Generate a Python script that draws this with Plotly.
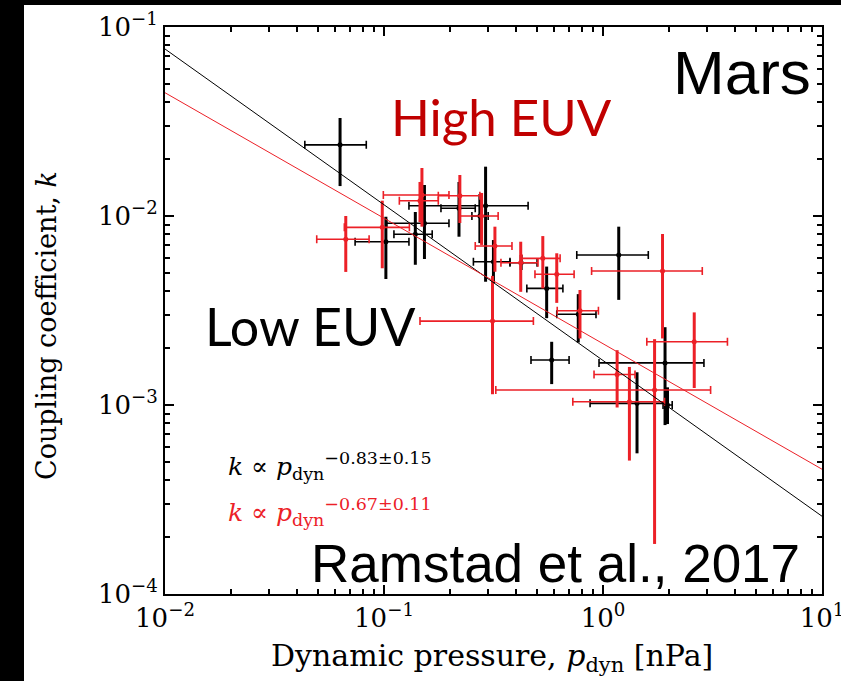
import plotly.graph_objects as go

# ---------------- data ----------------
# Low EUV (black)
low_x   = [0.0630, 0.102, 0.139, 0.153, 0.291, 0.220, 0.274, 0.316, 0.423, 0.553, 0.771, 1.18, 0.583, 1.92, 1.43, 1.97]
low_xlo = [0.0435, 0.0738, 0.111, 0.103, 0.130, 0.182, 0.252, 0.256, 0.376, 0.449, 0.615, 0.759, 0.469, 0.959, 0.873, 1.88]
low_xhi = [0.0830, 0.130, 0.166, 0.198, 0.455, 0.261, 0.299, 0.376, 0.500, 0.656, 0.929, 1.61, 0.700, 2.89, 1.95, 2.07]
low_y   = [0.0238, 0.00731, 0.0080, 0.00915, 0.01134, 0.01099, 0.0100, 0.00573, 0.00566, 0.00414, 0.00302, 0.00622, 0.00173, 0.00167, 0.00102, 0.00100]
low_ylo = [0.0144, 0.00464, 0.00552, 0.00592, 0.00449, 0.00777, 0.00719, 0.00442, 0.00518, 0.00288, 0.00214, 0.0036, 0.00129, 0.000783, 0.000555, 0.000793]
low_yhi = [0.0330, 0.00991, 0.0105, 0.01459, 0.01824, 0.01514, 0.01306, 0.00746, 0.00622, 0.0054, 0.00386, 0.00878, 0.00216, 0.00258, 0.00149, 0.00124]

# High EUV (red)
high_x   = [0.0669, 0.0982, 0.149, 0.146, 0.222, 0.279, 0.321, 0.313, 0.421, 0.531, 0.615, 0.785, 1.87, 2.61, 1.16, 1.72, 1.32]
high_xlo = [0.0493, 0.0659, 0.0993, 0.1175, 0.177, 0.222, 0.261, 0.146, 0.342, 0.426, 0.489, 0.618, 0.887, 1.585, 0.910, 0.324, 0.728]
high_xhi = [0.0855, 0.1306, 0.198, 0.177, 0.274, 0.332, 0.384, 0.481, 0.505, 0.637, 0.738, 0.953, 2.84, 3.70, 1.40, 3.10, 1.91]
high_y   = [0.00753, 0.00871, 0.01291, 0.01205, 0.0128, 0.0100, 0.00694, 0.00278, 0.00566, 0.00597, 0.00492, 0.00315, 0.00512, 0.00216, 0.00145, 0.00120, 0.00104]
high_ylo = [0.00506, 0.00529, 0.00878, 0.00929, 0.00918, 0.00703, 0.00507, 0.00114, 0.00397, 0.00414, 0.00347, 0.00225, 0.00225, 0.00123, 0.00097, 0.000184, 0.000508]
high_yhi = [0.0100, 0.01205, 0.01795, 0.01514, 0.01648, 0.01324, 0.00878, 0.00482, 0.00731, 0.00783, 0.00635, 0.00406, 0.00803, 0.00309, 0.00195, 0.00223, 0.00159]

# power-law fits k = amp * p^exp
low_fit_amp, low_fit_exp = 1.72e-3, -0.824
high_fit_amp, high_fit_exp = 2.11e-3, -0.664

x_range = [0.01, 10.0]
x_tickvals = [0.01, 0.1, 1, 10]
x_ticktext = ["10<sup>−2</sup>", "10<sup>−1</sup>", "10<sup>0</sup>", "10<sup>1</sup>"]
y_tickvals = [1e-4, 1e-3, 1e-2, 1e-1]
y_ticktext = ["10<sup>−4</sup>", "10<sup>−3</sup>", "10<sup>−2</sup>", "10<sup>−1</sup>"]

BLACK = "#000000"
RED = "#ec2027"
DARKRED = "#c00000"
SERIF = "DejaVu Serif, serif"
SANS = "Liberation Sans, Arial, sans-serif"
CAL = "Lato, Open Sans, sans-serif"

W, H = 841, 681
ML, MR, MT, MB = 165, 19, 27, 87
PW, PH = W - ML - MR, H - MT - MB


def px(xp):
    return (xp - ML) / PW


def py(yp):
    return (H - MB - yp) / PH


def err_trace(xs, xlo, xhi, ys, ylo, yhi, color):
    return go.Scatter(
        x=xs, y=ys, mode="markers",
        marker=dict(color=color, size=5),
        error_x=dict(type="data", symmetric=False,
                     array=[h - v for h, v in zip(xhi, xs)],
                     arrayminus=[v - l for v, l in zip(xs, xlo)],
                     color=color, thickness=1.6, width=4),
        error_y=dict(type="data", symmetric=False,
                     array=[h - v for h, v in zip(yhi, ys)],
                     arrayminus=[v - l for v, l in zip(ys, ylo)],
                     color=color, thickness=3, width=0),
        showlegend=False, hoverinfo="skip",
    )


fig = go.Figure()
fig.add_trace(err_trace(low_x, low_xlo, low_xhi, low_y, low_ylo, low_yhi, BLACK))
fig.add_trace(err_trace(high_x, high_xlo, high_xhi, high_y, high_ylo, high_yhi, RED))

fig.add_trace(go.Scatter(x=x_range, y=[low_fit_amp * v ** low_fit_exp for v in x_range],
                         mode="lines", line=dict(color=BLACK, width=1), showlegend=False))
fig.add_trace(go.Scatter(x=x_range, y=[high_fit_amp * v ** high_fit_exp for v in x_range],
                         mode="lines", line=dict(color=RED, width=1), showlegend=False))

# invisible trace that carries the overlay axes used for the minor ticks
fig.add_trace(go.Scatter(x=[x_range[0]], y=[y_tickvals[0]], xaxis="x2", yaxis="y2", mode="markers",
                         marker=dict(opacity=0), showlegend=False, hoverinfo="skip"))

minor_x = [m * 10.0 ** e for e in range(-2, 1) for m in range(2, 10)]
minor_y = [m * 10.0 ** e for e in range(-4, -1) for m in range(2, 10)]

axis_common = dict(
    showline=True, linecolor="black", linewidth=2, mirror="allticks",
    ticks="inside", tickwidth=1.5, tickcolor="black",
    showgrid=False, zeroline=False, automargin=False,
)
tickfont = dict(family=SERIF, size=26, color="black")

fig.update_layout(
    xaxis=dict(type="log", range=[-2, 1], tickmode="array", tickvals=x_tickvals, ticktext=x_ticktext,
               ticklen=9, tickfont=tickfont, ticklabeloverflow="allow", **axis_common),
    yaxis=dict(type="log", range=[-4, -1], tickmode="array", tickvals=y_tickvals, ticktext=y_ticktext,
               ticklen=9, tickfont=tickfont, ticklabeloverflow="allow", **axis_common),
    xaxis2=dict(type="log", range=[-2, 1], overlaying="x", anchor="y2", side="bottom",
                tickmode="array", tickvals=minor_x, showticklabels=False, ticklen=5, **axis_common),
    yaxis2=dict(type="log", range=[-4, -1], overlaying="y", anchor="x2", side="left",
                tickmode="array", tickvals=minor_y, showticklabels=False, ticklen=5, **axis_common),
)

annotations = [
    dict(text="Mars", x=px(813), y=py(72), xanchor="right", yanchor="middle",
         font=dict(family=SANS, size=62, color="black")),
    dict(text="High EUV", x=px(501), y=py(116), xanchor="center", yanchor="middle",
         font=dict(family=CAL, size=51, color=DARKRED)),
    dict(text="Low EUV", x=px(310), y=py(326), xanchor="center", yanchor="middle",
         font=dict(family=CAL, size=52, color="black")),
    dict(text="Ramstad et al., 2017", x=px(802), y=py(563), xanchor="right", yanchor="middle",
         font=dict(family=SANS, size=53, color="black")),
    dict(text="<i>k</i> ∝ <i>p</i><sub>dyn</sub><sup>−0.83±0.15</sup>", x=px(226), y=py(466),
         xanchor="left", yanchor="middle", font=dict(family=SERIF, size=25, color="black")),
    dict(text="<i>k</i> ∝ <i>p</i><sub>dyn</sub><sup>−0.67±0.11</sup>", x=px(226), y=py(512),
         xanchor="left", yanchor="middle", font=dict(family=SERIF, size=25, color=RED)),
    dict(text="Coupling coefficient, <i>k</i>", x=px(46), y=py(326), xanchor="center", yanchor="middle",
         textangle=-90, font=dict(family=SERIF, size=27, color="black")),
    dict(text="Dynamic pressure, <i>p</i><sub>dyn</sub> [nPa]", x=px(492), y=py(657),
         xanchor="center", yanchor="middle", font=dict(family=SERIF, size=30, color="black")),
]
for a in annotations:
    a.update(xref="paper", yref="paper", showarrow=False)

shapes = [
    dict(type="rect", xref="paper", yref="paper", x0=px(0), x1=px(W), y0=py(5), y1=py(0),
         fillcolor="black", line=dict(width=0), layer="above"),
    dict(type="rect", xref="paper", yref="paper", x0=px(0), x1=px(24), y0=py(H), y1=py(0),
         fillcolor="black", line=dict(width=0), layer="above"),
]

fig.update_layout(
    width=W, height=H, template="none",
    margin=dict(l=ML, r=MR, t=MT, b=MB, pad=0),
    paper_bgcolor="white", plot_bgcolor="white",
    annotations=annotations, shapes=shapes, showlegend=False,
)

fig.write_html("out.html")
